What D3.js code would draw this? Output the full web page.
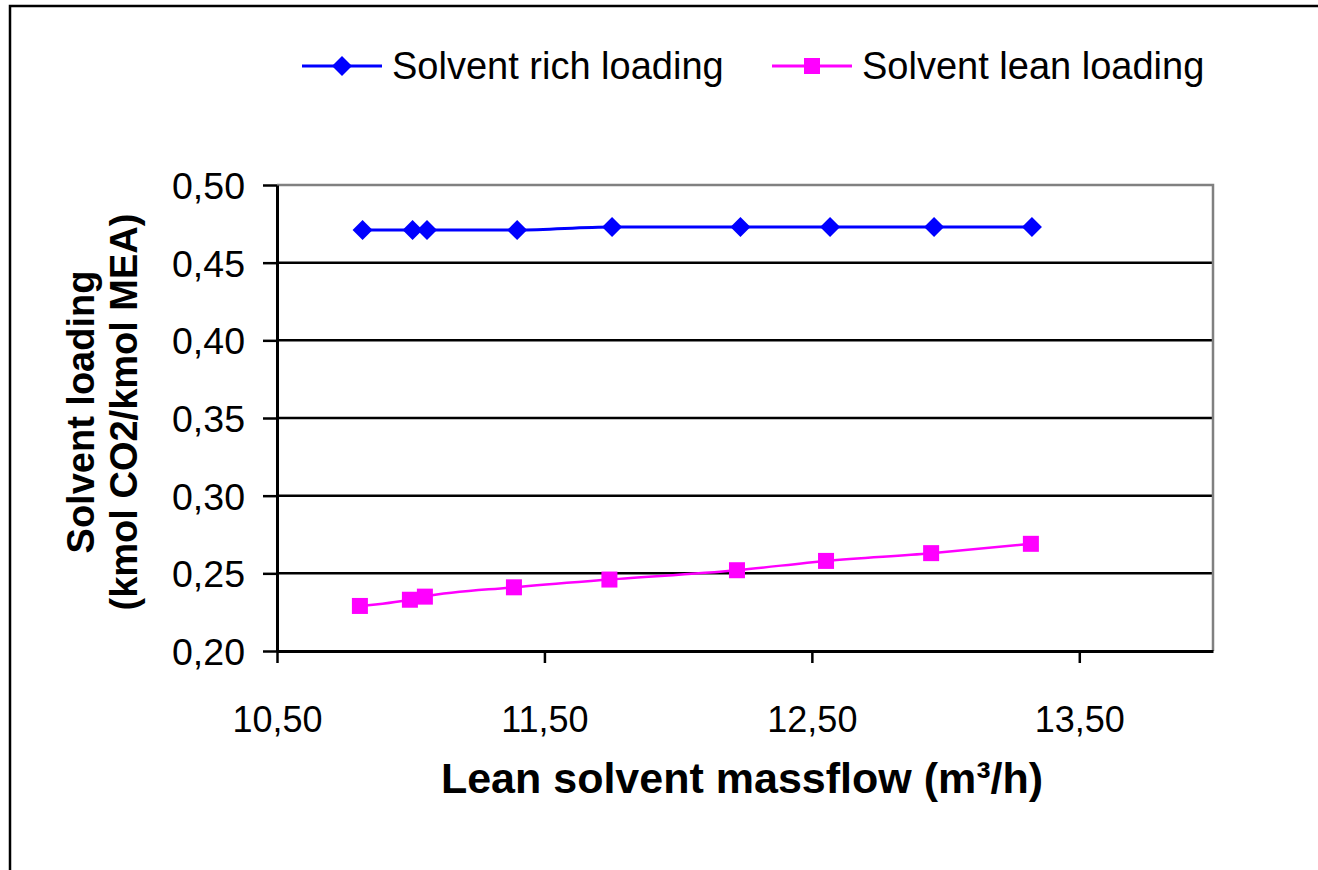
<!DOCTYPE html>
<html>
<head>
<meta charset="utf-8">
<script src="https://cdn.jsdelivr.net/npm/d3@7"></script>
<style>
  html, body { margin: 0; background: #fff; overflow: hidden; }
  svg { display: block; }
  text { font-family: "Liberation Sans", Arial, sans-serif; fill: #000; }
</style>
</head>
<body>
<div id="chart"></div>
<script>
// data
var richX = [10.82, 11.007, 11.061, 11.398, 11.753, 12.233, 12.568, 12.957, 13.323];
var richY = [0.471, 0.471, 0.471, 0.471, 0.473, 0.473, 0.473, 0.473, 0.473];
var leanX = [10.81, 10.997, 11.053, 11.386, 11.743, 12.22, 12.553, 12.946, 13.319];
var leanY = [0.229, 0.233, 0.235, 0.241, 0.246, 0.252, 0.258, 0.263, 0.269];
var xTicks = [10.5, 11.5, 12.5, 13.5];
var yTicks = [0.20, 0.25, 0.30, 0.35, 0.40, 0.45, 0.50];
var seriesNames = ["Solvent rich loading", "Solvent lean loading"];

var width = 1318, height = 870;
var plotLeft = 277, plotRight = 1213, plotTop = 185, plotBottom = 651;

var fmt = d3.formatLocale({decimal: ",", thousands: ".", grouping: [3], currency: ["", ""]}).format(".2f");

var svg = d3.select("#chart").append("svg")
	.attr("width", width)
	.attr("height", height);

// outer frame: only left and top edges are in the picture
svg.append("path")
	.attr("d", "M10," + height + "V6H" + width)
	.attr("fill", "none")
	.attr("stroke", "#000")
	.attr("stroke-width", 2.5);

var x = d3.scaleLinear().domain([10.5, 14.0]).range([plotLeft, plotRight]);
var y = d3.scaleLinear().domain([0.20, 0.50]).range([plotBottom, plotTop]);

//gridlines
svg.append("g").selectAll("line")
	.data(yTicks.slice(1, -1))
	.join("line")
	.attr("x1", plotLeft)
	.attr("x2", plotRight)
	.attr("y1", function(d){ return y(d); })
	.attr("y2", function(d){ return y(d); })
	.attr("stroke", "#000")
	.attr("stroke-width", 2.5);

//plot border top and right (gray)
svg.append("path")
	.attr("d", "M" + plotLeft + "," + plotTop + "H" + plotRight + "V" + plotBottom)
	.attr("fill", "none")
	.attr("stroke", "#808080")
	.attr("stroke-width", 2.5);

//y axis
var yAxis = svg.append("g")
	.attr("transform", "translate(" + plotLeft + ",0)")
	.call(d3.axisLeft(y).tickValues(yTicks).tickSize(14).tickSizeOuter(0).tickPadding(18).tickFormat(fmt));
yAxis.select(".domain").attr("stroke-width", 3);
yAxis.selectAll(".tick line").attr("stroke-width", 2.5);
yAxis.selectAll(".tick text")
	.attr("font-size", 37.5)
	.attr("font-family", "Liberation Sans, Arial, sans-serif")
	.attr("dy", "0.36em");

//x axis
var xAxis = svg.append("g")
	.attr("transform", "translate(0," + plotBottom + ")")
	.call(d3.axisBottom(x).tickValues(xTicks).tickSize(12).tickSizeOuter(0).tickPadding(69).tickFormat(fmt));
xAxis.select(".domain").attr("stroke-width", 3);
xAxis.selectAll(".tick line").attr("stroke-width", 2.5);
xAxis.selectAll(".tick text")
	.attr("font-size", 36)
	.attr("font-family", "Liberation Sans, Arial, sans-serif")
	.attr("dy", "0");

//axis titles
svg.append("text")
	.attr("x", 742)
	.attr("y", 793)
	.attr("text-anchor", "middle")
	.attr("font-size", 43)
	.attr("font-weight", "bold")
	.text("Lean solvent massflow (m³/h)");

var yTitle = svg.append("text")
	.attr("transform", "translate(94," + ((plotTop + plotBottom) / 2 - 6) + ") rotate(-90)")
	.attr("text-anchor", "middle")
	.attr("font-size", 38)
	.attr("font-weight", "bold");
yTitle.append("tspan").attr("x", 0).attr("dy", 0).text("Solvent loading");
yTitle.append("tspan").attr("x", 0).attr("dy", 43).text("(kmol CO2/kmol MEA)");

//lines
var line = d3.line()
	.x(function(d){ return x(d[0]); })
	.y(function(d){ return y(d[1]); })
	.curve(d3.curveMonotoneX);

var rich = d3.zip(richX, richY);
var lean = d3.zip(leanX, leanY);

svg.append("path")
	.attr("d", line(rich))
	.attr("fill", "none")
	.attr("stroke", "#0000ff")
	.attr("stroke-width", 3);

svg.append("path")
	.attr("d", line(lean))
	.attr("fill", "none")
	.attr("stroke", "#ff00ff")
	.attr("stroke-width", 2.5);

var diamond = "M0,-10L10,0L0,10L-10,0Z";

svg.append("g").selectAll("path")
	.data(rich)
	.join("path")
	.attr("d", diamond)
	.attr("transform", function(d){ return "translate(" + x(d[0]) + "," + y(d[1]) + ")"; })
	.attr("fill", "#0000ff");

svg.append("g").selectAll("rect")
	.data(lean)
	.join("rect")
	.attr("x", function(d){ return x(d[0]) - 8; })
	.attr("y", function(d){ return y(d[1]) - 8; })
	.attr("width", 16)
	.attr("height", 16)
	.attr("fill", "#ff00ff");

//legend
var legend = svg.append("g").attr("id", "legend");
var legendItems = [
	{name: seriesNames[0], color: "#0000ff", x0: 302, shape: "diamond"},
	{name: seriesNames[1], color: "#ff00ff", x0: 772, shape: "square"}
];
legendItems.forEach(function(it){
	legend.append("line")
		.attr("x1", it.x0).attr("x2", it.x0 + 80)
		.attr("y1", 66).attr("y2", 66)
		.attr("stroke", it.color).attr("stroke-width", 3);
	if (it.shape == "diamond") {
		legend.append("path")
			.attr("d", diamond)
			.attr("transform", "translate(" + (it.x0 + 40) + ",66)")
			.attr("fill", it.color);
	} else {
		legend.append("rect")
			.attr("x", it.x0 + 40 - 8).attr("y", 58)
			.attr("width", 16).attr("height", 16)
			.attr("fill", it.color);
	}
	legend.append("text")
		.attr("x", it.x0 + 90)
		.attr("y", 79)
		.attr("font-size", 38)
		.text(it.name);
});
</script>
</body>
</html>
